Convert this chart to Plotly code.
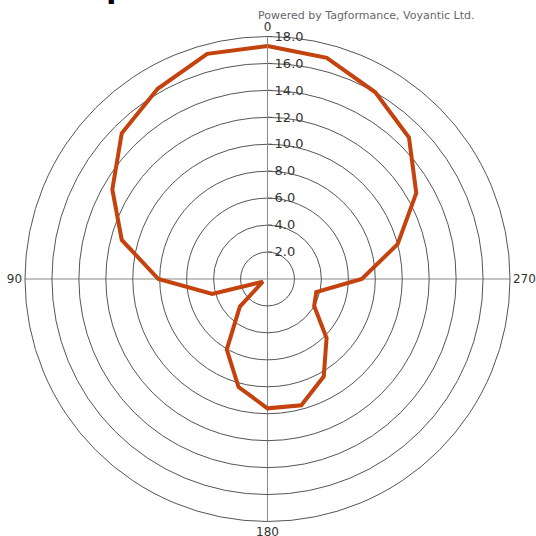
import plotly.graph_objects as go

# Data (angle in degrees, radius)
angles = [0, 15, 30, 45, 60, 75, 90, 105, 120, 135, 150, 165, 180,
          195, 210, 225, 240, 255, 270, 285, 300, 315, 330, 345, 360]
values = [17.3, 17.3, 16.3, 15.3, 13.3, 11.2, 8.1, 4.25, 0.4, 2.9, 6.05, 8.3, 9.6,
          9.7, 8.35, 6.2, 4.0, 3.75, 7.0, 10.0, 12.75, 14.85, 16.0, 17.0, 17.3]

radial_ticks = [2, 4, 6, 8, 10, 12, 14, 16, 18]
radial_labels = ["2.0", "4.0", "6.0", "8.0", "10.0", "12.0", "14.0", "16.0", "18.0"]
angular_ticks = [0, 90, 180, 270]
angular_labels = ["0", "90", "180", "270"]
credit = "Powered by Tagformance, Voyantic Ltd."
title_fragment = "p"  # only the descender of a cropped title is visible

W = H = 536
cx, cy, R = 267.5, 279.0, 242.5

fig = go.Figure()
fig.add_trace(go.Scatterpolar(
    r=values, theta=angles, mode="lines",
    line=dict(color="#C4420E", width=4),
    hoverinfo="skip", showlegend=False,
))

fig.update_layout(
    width=W, height=H,
    margin=dict(l=0, r=0, t=0, b=0),
    paper_bgcolor="white",
    plot_bgcolor="white",
    polar=dict(
        domain=dict(x=[(cx - R) / W, (cx + R) / W],
                    y=[(H - cy - R) / H, (H - cy + R) / H]),
        bgcolor="white",
        radialaxis=dict(
            range=[0, 18], angle=90, tickangle=90,
            tickvals=radial_ticks, ticktext=radial_labels,
            side="clockwise",
            ticks="outside", ticklen=4, tickcolor="#555",
            showline=True, linecolor="#888", linewidth=1,
            showgrid=True, gridcolor="#555", gridwidth=1,
            tickfont=dict(family="DejaVu Sans", size=13, color="#333"),
        ),
        angularaxis=dict(
            rotation=90, direction="counterclockwise",
            tickvals=angular_ticks, ticktext=angular_labels,
            ticks="", showline=True, linecolor="#555", linewidth=1,
            showgrid=True, gridcolor="#888", gridwidth=1,
            tickfont=dict(family="DejaVu Sans", size=12, color="#333"),
        ),
    ),
    annotations=[
        dict(
            text=credit, xref="paper", yref="paper",
            x=256 / W, y=1 - 16 / H, xanchor="left", yanchor="middle",
            showarrow=False,
            font=dict(family="DejaVu Sans", size=11, color="#666"),
        ),
        dict(
            text="<b>" + title_fragment + "</b>", xref="paper", yref="paper",
            x=104 / W, y=1 + 17 / H, xanchor="left", yanchor="middle",
            showarrow=False,
            font=dict(family="Liberation Sans", size=38, color="black"),
        ),
    ],
)

fig.write_html("out.html", config={"displayModeBar": False},
               post_script="document.body.style.margin='0';")
